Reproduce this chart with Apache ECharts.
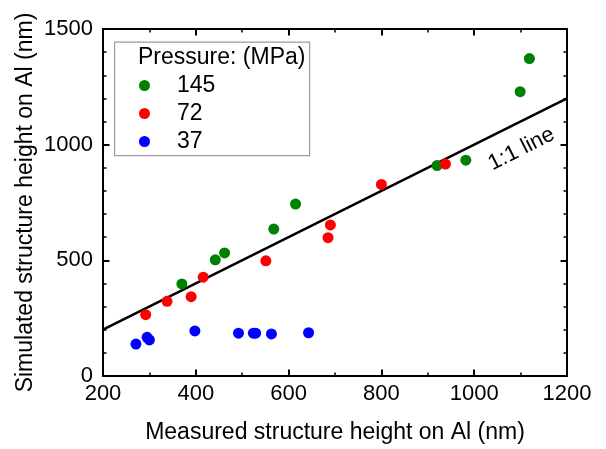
<!DOCTYPE html>
<html>
<head>
<meta charset="utf-8">
<script src="https://cdn.jsdelivr.net/npm/echarts@6/dist/echarts.min.js"></script>
<style>
html,body{margin:0;padding:0;background:#fff;}
#chart{width:606px;height:449px;}
</style>
</head>
<body>
<div id="chart"></div>
<script>
// Data
const xTicks = [200, 400, 600, 800, 1000, 1200];
const yTicks = [0, 500, 1000, 1500];

const legendTitle = 'Pressure: (MPa)';
const seriesNames = ['145', '72', '37'];

const p145X = [370, 442, 462, 568, 615, 920, 982, 1099, 1119];
const p145Y = [398, 502, 532, 635, 743, 910, 933, 1229, 1372];

const p72X = [292, 338, 390, 416, 551, 685, 690, 800, 938];
const p72Y = [265, 323, 343, 427, 498, 598, 653, 828, 916];

const p37X = [271, 295, 300, 398, 492, 524, 529, 563, 643];
const p37Y = [138, 167, 156, 195, 185, 185, 185, 182, 187];

const lineX = [200, 1200];
const lineY = [200, 1200];
const lineLabel = '1:1 line';

const xName = 'Measured structure height on Al (nm)';
const yName = 'Simulated structure height on Al (nm)';

const FONT = 'Liberation Sans, Arial, sans-serif';
const pair = (xs, ys) => xs.map((x, i) => [x, ys[i]]);

const chart = echarts.init(document.getElementById('chart'), null, {renderer: 'canvas'});

function makeAxis(extra, split) {
  return Object.assign({
    type: 'value',
    axisLine: {show: true, onZero: false, lineStyle: {color: '#000', width: 2}},
    axisTick: {show: true, inside: true, length: 6.5, lineStyle: {color: '#000', width: 2}},
    minorTick: {show: true, splitNumber: split, length: 3.5, lineStyle: {color: '#000', width: 1.5}},
    splitLine: {show: false},
    minorSplitLine: {show: false}
  }, extra);
}

const option = {
  animation: false,
  backgroundColor: '#fff',
  grid: {left: 103, right: 39, top: 29, bottom: 73, containLabel: false},
  xAxis: [
    makeAxis({
      position: 'bottom', min: xTicks[0], max: xTicks[xTicks.length - 1], interval: 200,
      axisLabel: {show: true, color: '#000', fontFamily: FONT, fontSize: 22, margin: 7,
                  formatter: v => String(v)},
      name: xName, nameLocation: 'middle', nameGap: 45, nameMoveOverlap: false,
      nameTextStyle: {color: '#000', fontFamily: FONT, fontSize: 23}
    }, 2),
    makeAxis({
      position: 'top', min: xTicks[0], max: xTicks[xTicks.length - 1], interval: 200,
      axisLabel: {show: false}
    }, 2)
  ],
  yAxis: [
    makeAxis({
      position: 'left', min: yTicks[0], max: yTicks[yTicks.length - 1], interval: 500,
      axisLabel: {show: true, color: '#000', fontFamily: FONT, fontSize: 22, margin: 10,
                  formatter: v => String(v)},
      name: yName, nameLocation: 'middle', nameGap: 66, nameMoveOverlap: false,
      nameTextStyle: {color: '#000', fontFamily: FONT, fontSize: 23}
    }, 5),
    makeAxis({
      position: 'right', min: yTicks[0], max: yTicks[yTicks.length - 1], interval: 500,
      axisLabel: {show: false}
    }, 5)
  ],
  legend: {
    data: seriesNames,
    orient: 'vertical',
    left: 139, top: 74,
    itemWidth: 55, itemHeight: 11, itemGap: 5,
    icon: 'circle',
    textStyle: {color: '#000', fontFamily: FONT, fontSize: 23},
    padding: 0
  },
  graphic: [
    {type: 'rect', left: 114, top: 41.5, z: 0,
     shape: {width: 195, height: 113.5},
     style: {fill: '#fff', stroke: '#9a9a9a', lineWidth: 1.2}},
    {type: 'text', left: 138, top: 46, z: 10,
     style: {text: legendTitle, fill: '#000', font: '23px ' + FONT}},
    {type: 'text', x: 521.5, y: 149, rotation: 0.47, z: 10,
     style: {text: lineLabel, fill: '#000', font: '22px ' + FONT, align: 'center', verticalAlign: 'middle'}}
  ],
  series: [
    {name: 'line', type: 'line', data: pair(lineX, lineY), symbol: 'none', silent: true,
     lineStyle: {color: '#000', width: 2.5}, z: 2},
    {name: seriesNames[0], type: 'scatter', data: pair(p145X, p145Y), symbolSize: 11,
     itemStyle: {color: '#008000', opacity: 1}, z: 3},
    {name: seriesNames[1], type: 'scatter', data: pair(p72X, p72Y), symbolSize: 11,
     itemStyle: {color: '#ff0000', opacity: 1}, z: 3},
    {name: seriesNames[2], type: 'scatter', data: pair(p37X, p37Y), symbolSize: 11,
     itemStyle: {color: '#0000ff', opacity: 1}, z: 3}
  ]
};
chart.setOption(option);
</script>
</body>
</html>
